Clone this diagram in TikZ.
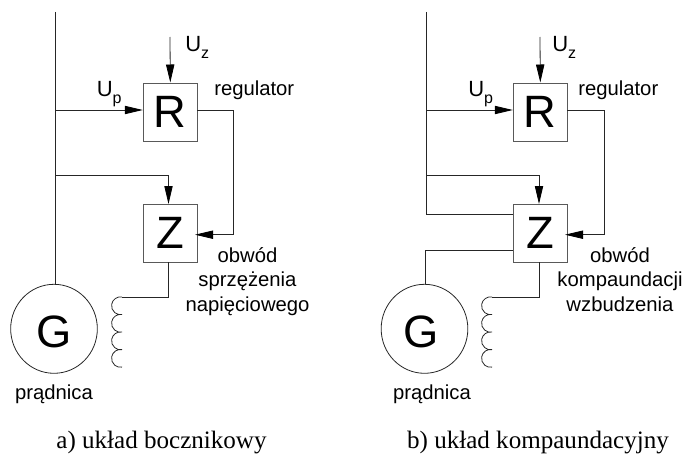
\documentclass[tikz,border=0pt]{standalone}
\usepackage{fontspec}
\setmainfont{Liberation Sans}
\newfontfamily\capfont{Liberation Serif}
\usetikzlibrary{arrows.meta,shapes.geometric}
\tikzset{
  wire/.style={line width=0.6pt,black!85},
  arr/.style={wire,-{Triangle[length=13.5pt,width=6.2pt,black]}},
  blockbox/.style={draw=black!65,line width=0.75pt,minimum width=40.5pt,minimum height=43.5pt,inner sep=0pt,font=\fontsize{34}{34}\selectfont},
  gen/.style={ellipse,draw=black!85,line width=0.6pt,minimum width=65pt,minimum height=66.75pt,inner sep=0pt},
  genlab/.style={inner sep=0pt,font=\fontsize{34}{34}\selectfont},
  lab/.style={inner sep=0pt,font=\fontsize{15.2}{18.6}\selectfont,align=center},
  sym/.style={inner sep=0pt,font=\fontsize{16.5}{16.5}\selectfont},
  captxt/.style={inner sep=0pt,font=\capfont\fontsize{18.8}{20}\selectfont},
  coil/.pic={\draw[wire] (0,0) arc[start angle=-80,end angle=-280,radius=8.9]
  arc[start angle=-80,end angle=-280,radius=8.9]
  arc[start angle=-80,end angle=-280,radius=8.9]
  arc[start angle=-80,end angle=-280,radius=8.9];},
}
\newcommand{\subs}[1]{\raisebox{-5.25pt}{\fontsize{12}{12}\selectfont #1}}
\begin{document}
\begin{tikzpicture}[x=0.75pt,y=-0.75pt]
\useasboundingbox (0,0) rectangle (684,453);
% panel a
\node[blockbox] (Ra) at (170.3,112) {\raisebox{-1.3pt}{R}};
\node[blockbox] (Za) at (170.3,233) {Z};
\node[gen] (Ga) at (54,328.8) {};
\node[genlab] (Gla) at (53.7,331.7) {G};
\coordinate (topa) at (55,12);
\coordinate (uza) at (170,37);
\coordinate (upa) at (55,110);
\coordinate (fba) at (55,175);
\coordinate (fbza) at (168.5,204);
\coordinate (oza) at (168.5,262);
\coordinate (ca) at (122,297);
\coordinate (ra) at (197,110);
\coordinate (cna) at (233,110);
\coordinate (cea) at (233,234.7);
\coordinate (zea) at (195,234.7);
\draw[wire] (topa) -- (topa |- Ga.north);
\draw[arr] (uza) -- (Ra.north);
\draw[arr] (upa) -- (upa -| Ra.west);
\draw[wire] (ra) -- (cna) -- (cea);
\draw[arr] (cea) -- (zea);
\draw[arr] (fba) -| (fbza);
\draw[wire] (oza) |- (ca);
\pic at (ca) {coil};
\node[sym,anchor=base west] (uzal) at (185,52) {U\subs{z}};
\node[sym,anchor=base west] (upal) at (96.5,96) {U\subs{p}};
\node[lab,anchor=base west] (rega) at (214,95) {regulator};
\node[lab,anchor=north] (oba) at (247.5,247) {obwód\\sprzężenia\\napięciowego};
\node[lab,anchor=base] (pra) at (54,399) {prądnica};
\node[captxt,anchor=base] (capa) at (161.5,448) {a) układ bocznikowy};
% panel b
\node[blockbox] (Rb) at (540.3,112) {\raisebox{-1.3pt}{R}};
\node[blockbox] (Zb) at (540.3,233) {Z};
\node[gen] (Gb) at (424.5,328.8) {};
\node[genlab] (Glb) at (421.5,331.7) {G};
\coordinate (topb) at (426.5,12);
\coordinate (cornb) at (426.5,214.7);
\coordinate (zwb) at (513,214.7);
\coordinate (uzb) at (540,37);
\coordinate (upb) at (426.5,110);
\coordinate (fbb) at (426.5,175);
\coordinate (fbzb) at (539,204);
\coordinate (ozb) at (539,262);
\coordinate (cb) at (492,297);
\coordinate (rb) at (567,110);
\coordinate (cnb) at (604,110);
\coordinate (ceb) at (604,234.7);
\coordinate (zeb) at (565,234.7);
\coordinate (gtb) at (425.7,284.3);
\coordinate (gcb) at (425.7,250);
\coordinate (zgb) at (513,250);
\draw[wire] (topb) -- (cornb) -- (zwb);
\draw[arr] (uzb) -- (Rb.north);
\draw[arr] (upb) -- (upb -| Rb.west);
\draw[wire] (rb) -- (cnb) -- (ceb);
\draw[arr] (ceb) -- (zeb);
\draw[arr] (fbb) -| (fbzb);
\draw[wire] (gtb) -- (gcb) -- (zgb);
\draw[wire] (ozb) |- (cb);
\pic at (cb) {coil};
\node[sym,anchor=base west] (uzbl) at (552,52) {U\subs{z}};
\node[sym,anchor=base west] (upbl) at (468,96) {U\subs{p}};
\node[lab,anchor=base west] (regb) at (578,95) {regulator};
\node[lab,anchor=north] (obb) at (620,247) {obwód\\kompaundacji\\wzbudzenia};
\node[lab,anchor=base] (prb) at (432,399) {prądnica};
\node[captxt,anchor=base] (capb) at (538,448) {b) układ kompaundacyjny};
\end{tikzpicture}
\end{document}
